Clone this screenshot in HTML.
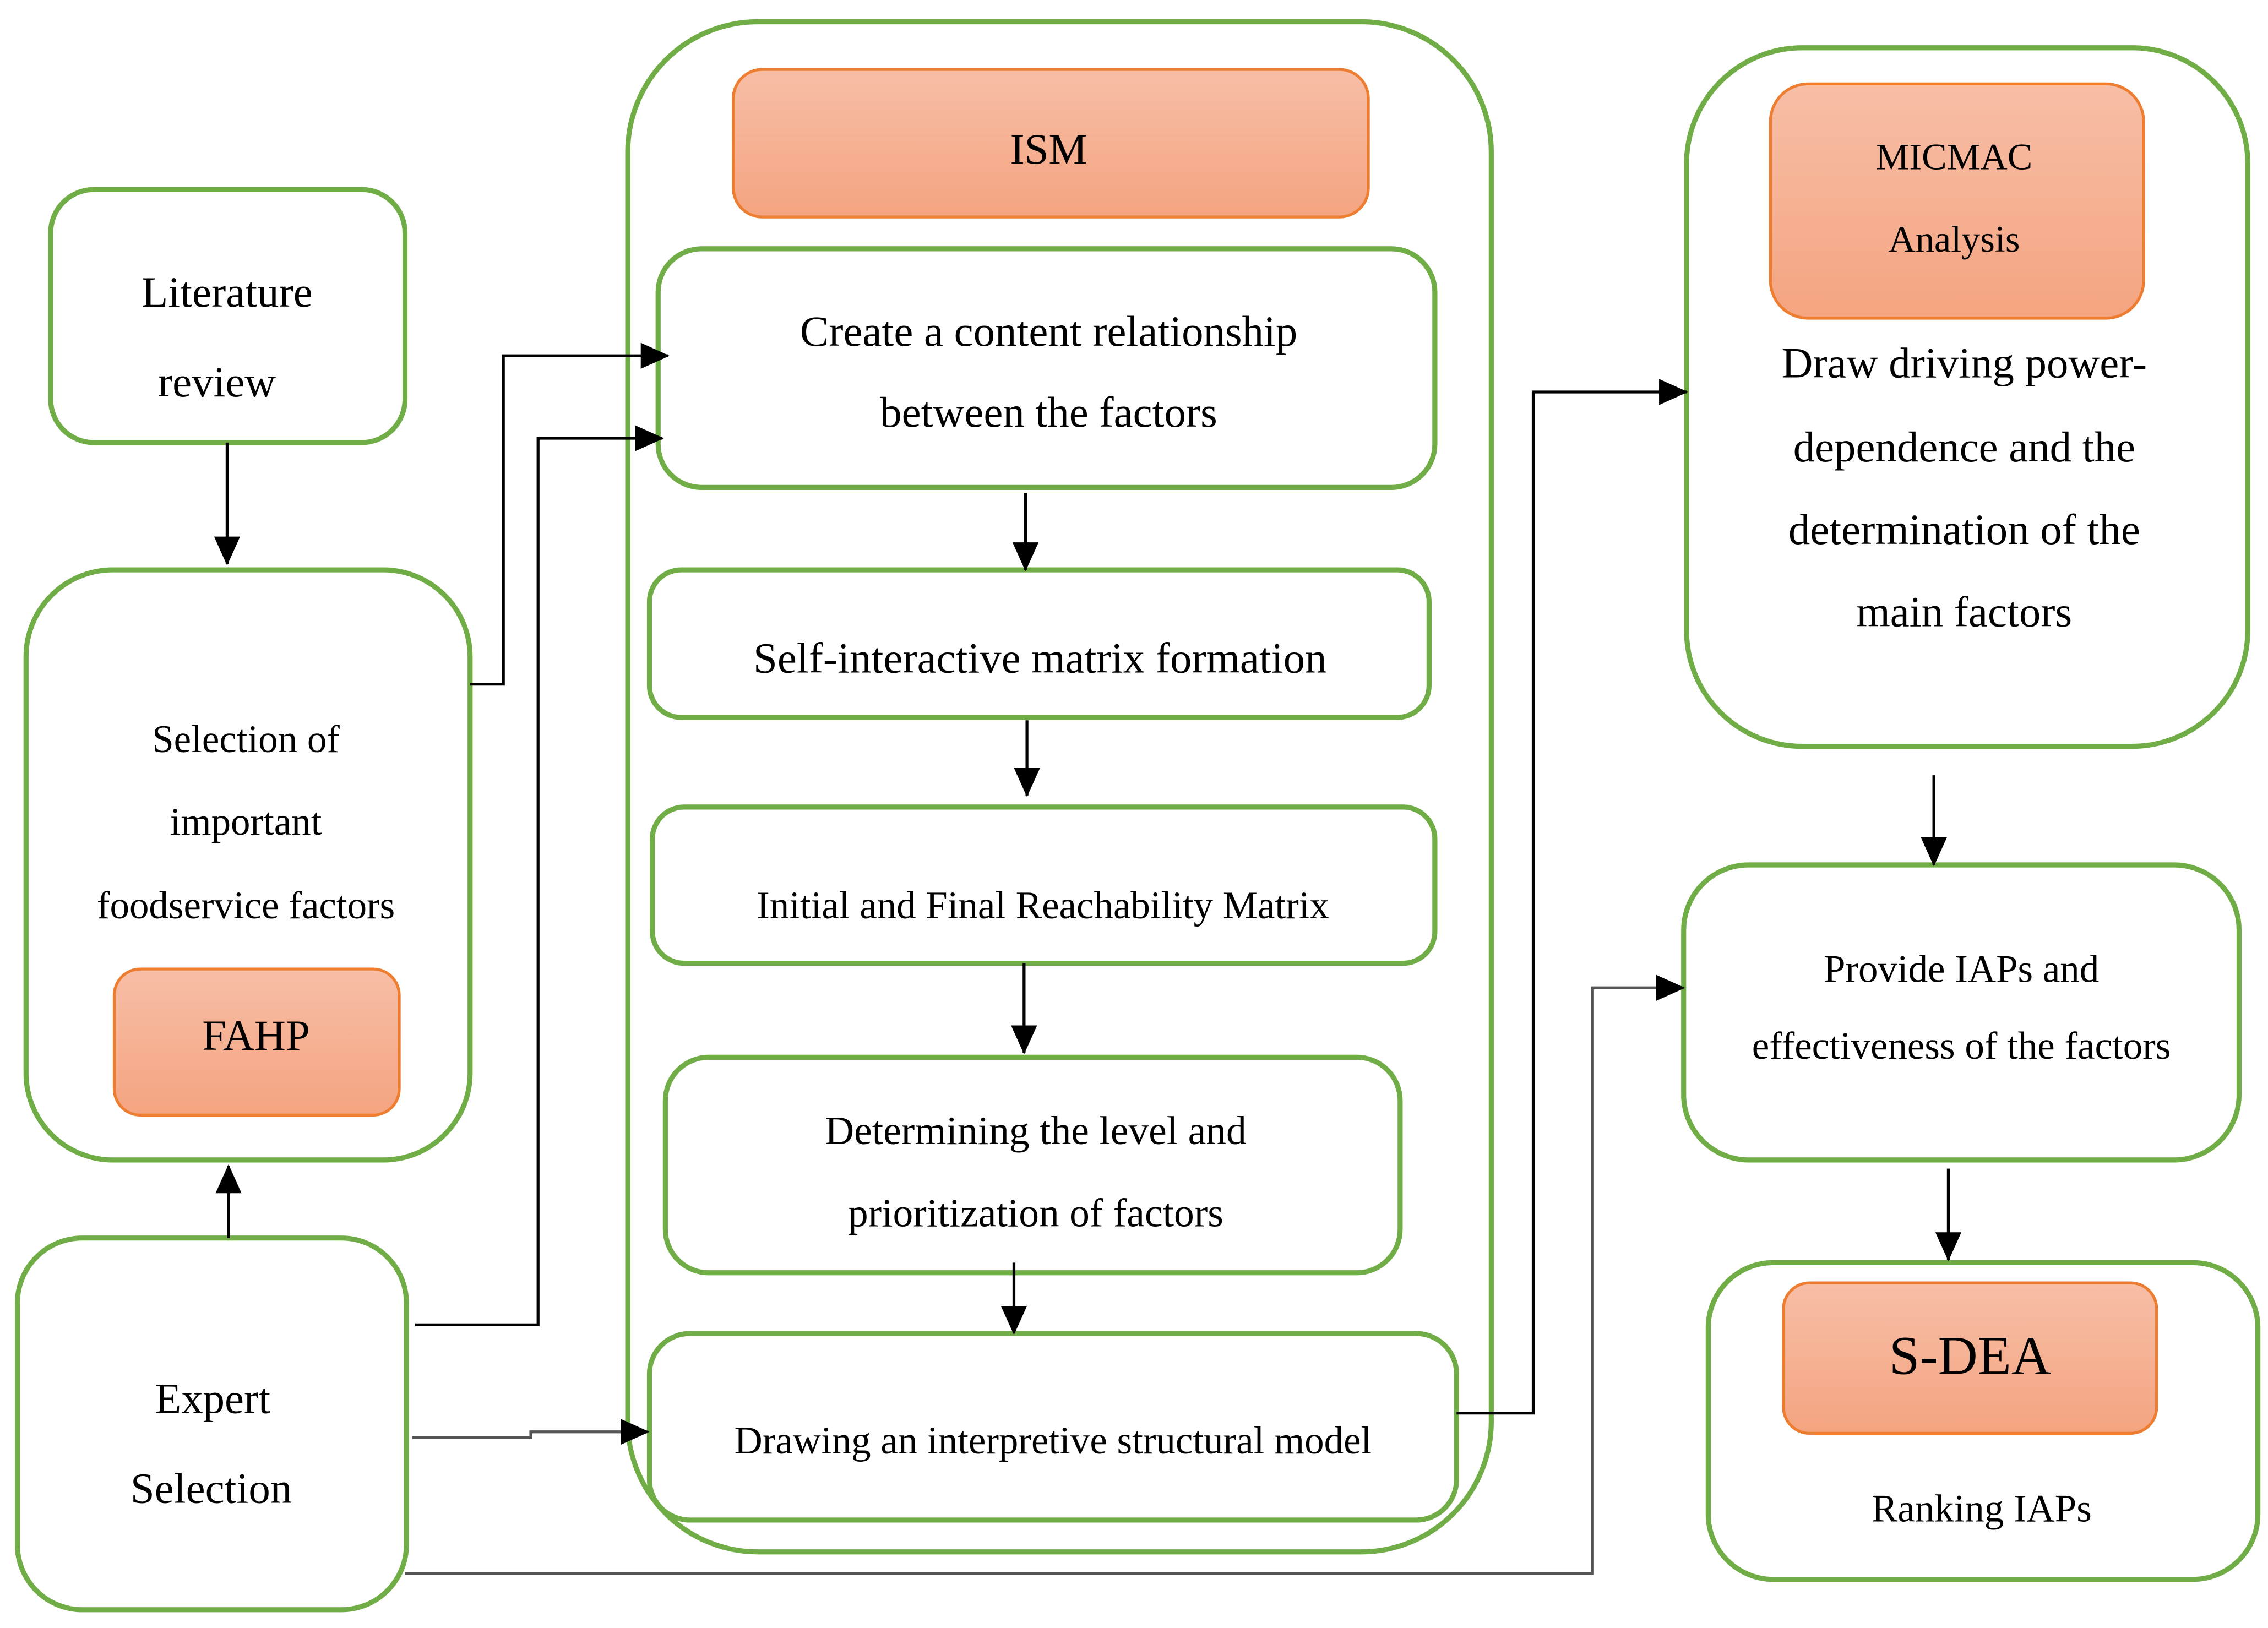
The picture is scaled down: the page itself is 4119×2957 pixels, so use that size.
<!DOCTYPE html>
<html><head><meta charset="utf-8"><style>html,body{margin:0;padding:0;background:#fff}svg{display:block}</style></head><body>
<svg width="4119" height="2957" viewBox="0 0 1568 1125.6" xmlns="http://www.w3.org/2000/svg" font-family="'Liberation Serif', serif" fill="#000">
<defs>
<linearGradient id="og" x1="0" y1="0" x2="0" y2="1"><stop offset="0" stop-color="#F7BEA6"/><stop offset="1" stop-color="#F4A480"/></linearGradient>
<marker id="ar" markerWidth="20" markerHeight="18" refX="19" refY="9" orient="auto" markerUnits="userSpaceOnUse" viewBox="0 0 20 18"><path d="M0,0 L20,9 L0,18 z" fill="#000"/></marker>
</defs>
<style>
.g{fill:#fff;stroke:#70AD47;stroke-width:3.5}
.o{fill:url(#og);stroke:#ED7D31;stroke-width:2}
.l{fill:none;stroke:#000;stroke-width:2}
.lg{fill:none;stroke:#555;stroke-width:2}
text{text-anchor:middle}
</style>
<rect class="g" x="434" y="15" width="597" height="1058" rx="90"/>
<rect class="o" x="507" y="48" width="439" height="102" rx="20"/>
<text x="725" y="113" font-size="30">ISM</text>
<rect class="g" x="455" y="172" width="537" height="165" rx="30"/>
<text x="725" y="239" font-size="30">Create a content relationship</text>
<text x="725" y="295" font-size="30">between the factors</text>
<rect class="g" x="449" y="394" width="539" height="102" rx="22"/>
<text x="719" y="465" font-size="30">Self-interactive matrix formation</text>
<rect class="g" x="451" y="558" width="541" height="108" rx="22"/>
<text x="721" y="635" font-size="27">Initial and Final Reachability Matrix</text>
<rect class="g" x="460" y="731" width="508" height="149" rx="30"/>
<text x="716" y="791" font-size="28">Determining the level and</text>
<text x="716" y="848" font-size="28">prioritization of factors</text>
<rect class="g" x="449" y="922" width="558" height="129" rx="28"/>
<text x="728" y="1005" font-size="27">Drawing an interpretive structural model</text>
<rect class="g" x="35" y="131" width="245" height="175" rx="30"/>
<text x="157" y="212" font-size="30">Literature</text>
<text x="150" y="274" font-size="30">review</text>
<rect class="g" x="18" y="394" width="307" height="408" rx="60"/>
<text x="170" y="520" font-size="27">Selection of</text>
<text x="170" y="577" font-size="27">important</text>
<text x="170" y="635" font-size="27">foodservice factors</text>
<rect class="o" x="79" y="670" width="197" height="101" rx="18"/>
<text x="177" y="726" font-size="30">FAHP</text>
<rect class="g" x="12" y="856" width="269" height="257" rx="45"/>
<text x="147" y="977" font-size="30">Expert</text>
<text x="146" y="1039" font-size="30">Selection</text>
<rect class="g" x="1166" y="33" width="388" height="483" rx="80"/>
<rect class="o" x="1224" y="58" width="258" height="162" rx="26"/>
<text x="1351" y="117" font-size="26">MICMAC</text>
<text x="1351" y="174" font-size="26">Analysis</text>
<text x="1358" y="261" font-size="30">Draw driving power-</text>
<text x="1358" y="319" font-size="30">dependence and the</text>
<text x="1358" y="376" font-size="30">determination of the</text>
<text x="1358" y="433" font-size="30">main factors</text>
<rect class="g" x="1164" y="598" width="384" height="204" rx="45"/>
<text x="1356" y="679" font-size="27">Provide IAPs and</text>
<text x="1356" y="732" font-size="27">effectiveness of the factors</text>
<rect class="g" x="1181" y="873" width="380" height="219" rx="45"/>
<rect class="o" x="1233" y="887" width="258" height="104" rx="18"/>
<text x="1362" y="950" font-size="38">S-DEA</text>
<text x="1370" y="1052" font-size="27">Ranking IAPs</text>
<line class="l" x1="157" y1="306" x2="157" y2="390" marker-end="url(#ar)"/>
<polyline class="l" points="325,473 348,473 348,246 462,246" marker-end="url(#ar)"/>
<polyline class="l" points="287,916 372,916 372,303 458,303" marker-end="url(#ar)"/>
<polyline class="lg" points="285,994 367,994 367,990 448,990" marker-end="url(#ar)"/>
<polyline class="lg" points="280,1088 1101,1088 1101,683 1164,683" marker-end="url(#ar)"/>
<line class="l" x1="158" y1="856" x2="158" y2="806" marker-end="url(#ar)"/>
<line class="l" x1="709" y1="341" x2="709" y2="394" marker-end="url(#ar)"/>
<line class="l" x1="710" y1="498" x2="710" y2="550" marker-end="url(#ar)"/>
<line class="l" x1="708" y1="666" x2="708" y2="728" marker-end="url(#ar)"/>
<line class="l" x1="701" y1="873" x2="701" y2="922" marker-end="url(#ar)"/>
<polyline class="l" points="1007,977 1060,977 1060,271 1166,271" marker-end="url(#ar)"/>
<line class="l" x1="1337" y1="536" x2="1337" y2="598" marker-end="url(#ar)"/>
<line class="l" x1="1347" y1="808" x2="1347" y2="871" marker-end="url(#ar)"/>
</svg>
</body></html>
